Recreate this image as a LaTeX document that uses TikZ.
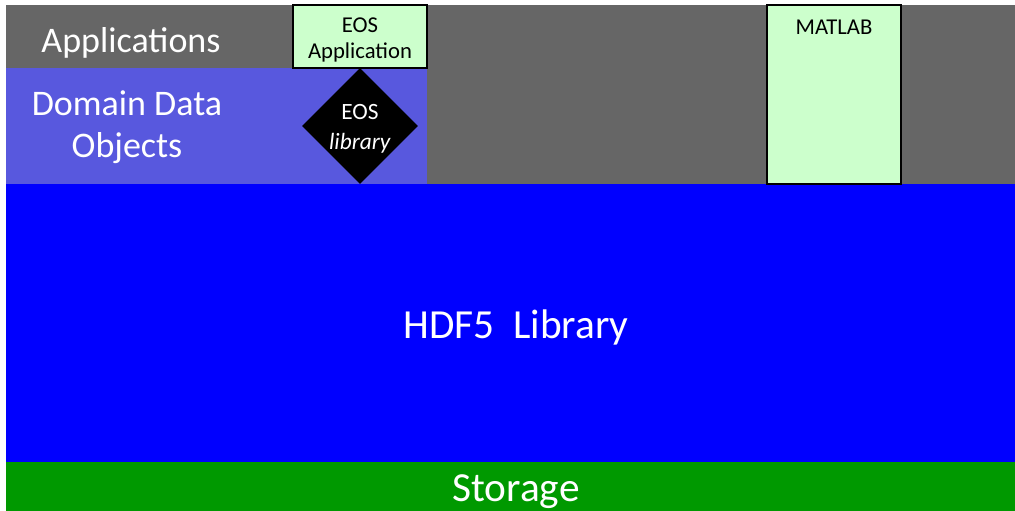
\documentclass[tikz,border=0pt]{standalone}
\usepackage{fontspec}
\setmainfont{Carlito}
\usetikzlibrary{shapes.geometric}

\definecolor{appgray}{RGB}{102,102,102}
\definecolor{domblue}{RGB}{88,88,222}
\definecolor{hdfblue}{RGB}{0,0,255}
\definecolor{storgreen}{RGB}{0,153,0}
\definecolor{boxgreen}{RGB}{204,255,204}

\begin{document}
\begin{tikzpicture}[x=0.75pt,y=0.75pt,yscale=-1,xscale=1]
	\tikzset{
		biglabel/.style={text=white, inner sep=0.75pt, align=center, font=\fontsize{27}{31.5}\selectfont},
		smalllabel/.style={text=black, inner sep=0.75pt, align=center, font=\fontsize{17}{19.5}\selectfont},
		appbox/.style={draw=black, fill=boxgreen, line width=0.8},
	}
	\useasboundingbox (0,0) rectangle (1015,511);

	% Layers
	\fill [appgray]   (6,5) rectangle (1015,184);
	\fill [domblue]   (6,68) rectangle (427,184);
	\fill [hdfblue]   (6,184) rectangle (1015,462);
	\fill [storgreen] (6,462) rectangle (1015,511);

	% Application boxes
	\draw [appbox] (293,5) rectangle (427,68);
	\draw [appbox] (767,5) rectangle (901,184);

	% Diamond
	\node (eoslib) [diamond, fill=black, minimum width=87pt, minimum height=87pt, inner sep=0pt] at (360,126) {};

	% Text Node
	\node (apps) [biglabel] at (131,43) {Applications};
	% Text Node
	\node (domain) [biglabel] at (127,127) {Domain Data\\Objects};
	% Text Node
	\node (hdf) [biglabel, font=\fontsize{31}{35}\selectfont] at (516,327) {HDF5\ \ Library};
	% Text Node
	\node (storage) [biglabel, font=\fontsize{31}{35}\selectfont] at (516,492) {Storage};
	% Text Node
	\node (eosapp) [smalllabel] at (360,40) {EOS\\Application};
	% Text Node
	\node (matlab) [smalllabel, anchor=center] at (834,27) {MATLAB};
	% Text Node
	\node (eostext) [smalllabel, text=white, font=\fontsize{17.5}{22}\selectfont] at ([yshift=2]eoslib.center) {EOS\\\textit{library}};

\end{tikzpicture}
\end{document}
